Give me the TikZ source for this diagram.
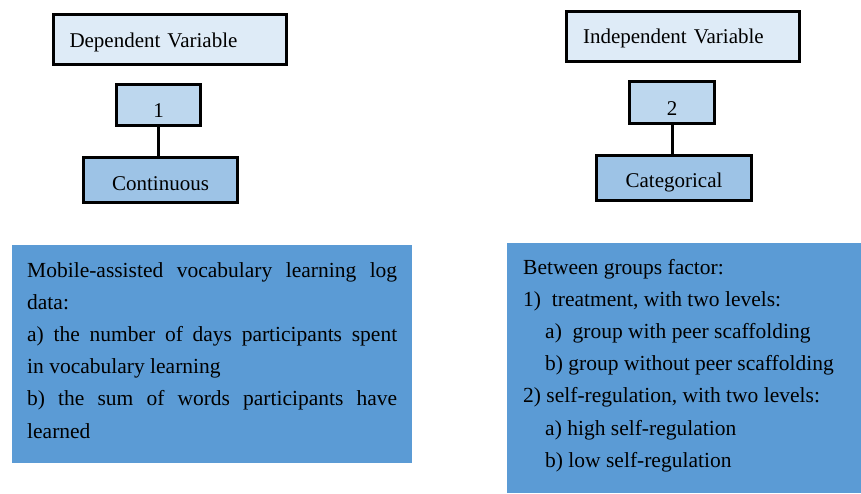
\documentclass[tikz,border=0pt]{standalone}
\usepackage{fontspec}
\setmainfont{Liberation Serif}
\definecolor{cTop}{HTML}{DEEBF7}
\definecolor{cMid}{HTML}{BDD7EE}
\definecolor{cLow}{HTML}{9DC3E6}
\definecolor{cBig}{HTML}{5B9BD5}
\begin{document}
\begin{tikzpicture}[x=1pt,y=-1pt,
  vbox/.style={draw=black, line width=3pt, inner sep=0pt, font=\fontsize{21}{25}\selectfont, text depth=0pt},
  headbox/.style={vbox, fill=cTop, minimum height=50pt, text width=200pt, inner xsep=16.5pt, align=left},
  numbox/.style={vbox, fill=cMid, minimum height=41.5pt},
  typebox/.style={vbox, fill=cLow, minimum height=45pt},
  bigbox/.style={fill=cBig, draw=none},
  txt/.style={anchor=base west, inner sep=0pt, font=\fontsize{21.5}{32}\selectfont},
  link/.style={line width=3pt}]
\useasboundingbox (0,0) rectangle (861,493);
% left column
\node[headbox, minimum width=232pt, text height=15pt] (dep) at (169.5,39.5) {Dependent Variable};
\node[numbox, minimum width=84pt, text height=24pt] (n1) at (158.5,105) {1};
\node[typebox, minimum width=154pt, text height=20pt] (cont) at (160.5,180) {Continuous};
\draw[link] (n1.south) -- (n1.south |- cont.north);
% right column
\node[headbox, minimum width=233pt, text height=13pt] (indep) at (683,36.5) {Independent Variable};
\node[numbox, minimum width=85pt, text height=25pt] (n2) at (672,102.5) {2};
\node[typebox, minimum width=155pt, text height=18pt] (cat) at (674,178) {Categorical};
\draw[link] (n2.south) -- (n2.south |- cat.north);
% big boxes
\path[bigbox] (12,245) rectangle (412,463);
\path[bigbox] (507,243) rectangle (861,493);
% left text
\node[txt] (d1) at (27,277) {\makebox[370pt][s]{Mobile-assisted vocabulary learning log}};
\node[txt] (d2) at (27,309.2) {data:};
\node[txt] (d3) at (27,341.4) {\makebox[370pt][s]{a) the number of days participants spent}};
\node[txt] (d4) at (27,373.6) {in vocabulary learning};
\node[txt] (d5) at (27,405.8) {\makebox[370pt][s]{b) the sum of words participants have}};
\node[txt] (d6) at (27,438) {learned};
% right text
\node[txt] (i1) at (523,274) {Between groups factor:};
\node[txt] (i2) at (523,306.2) {1)\ \ treatment, with two levels:};
\node[txt] (i3) at (545,338.4) {a)\ \ group with peer scaffolding};
\node[txt] (i4) at (545,370.6) {b) group without peer scaffolding};
\node[txt] (i5) at (523,402.8) {2) self-regulation, with two levels:};
\node[txt] (i6) at (545,435) {a) high self-regulation};
\node[txt] (i7) at (545,467.2) {b) low self-regulation};
\end{tikzpicture}
\end{document}
